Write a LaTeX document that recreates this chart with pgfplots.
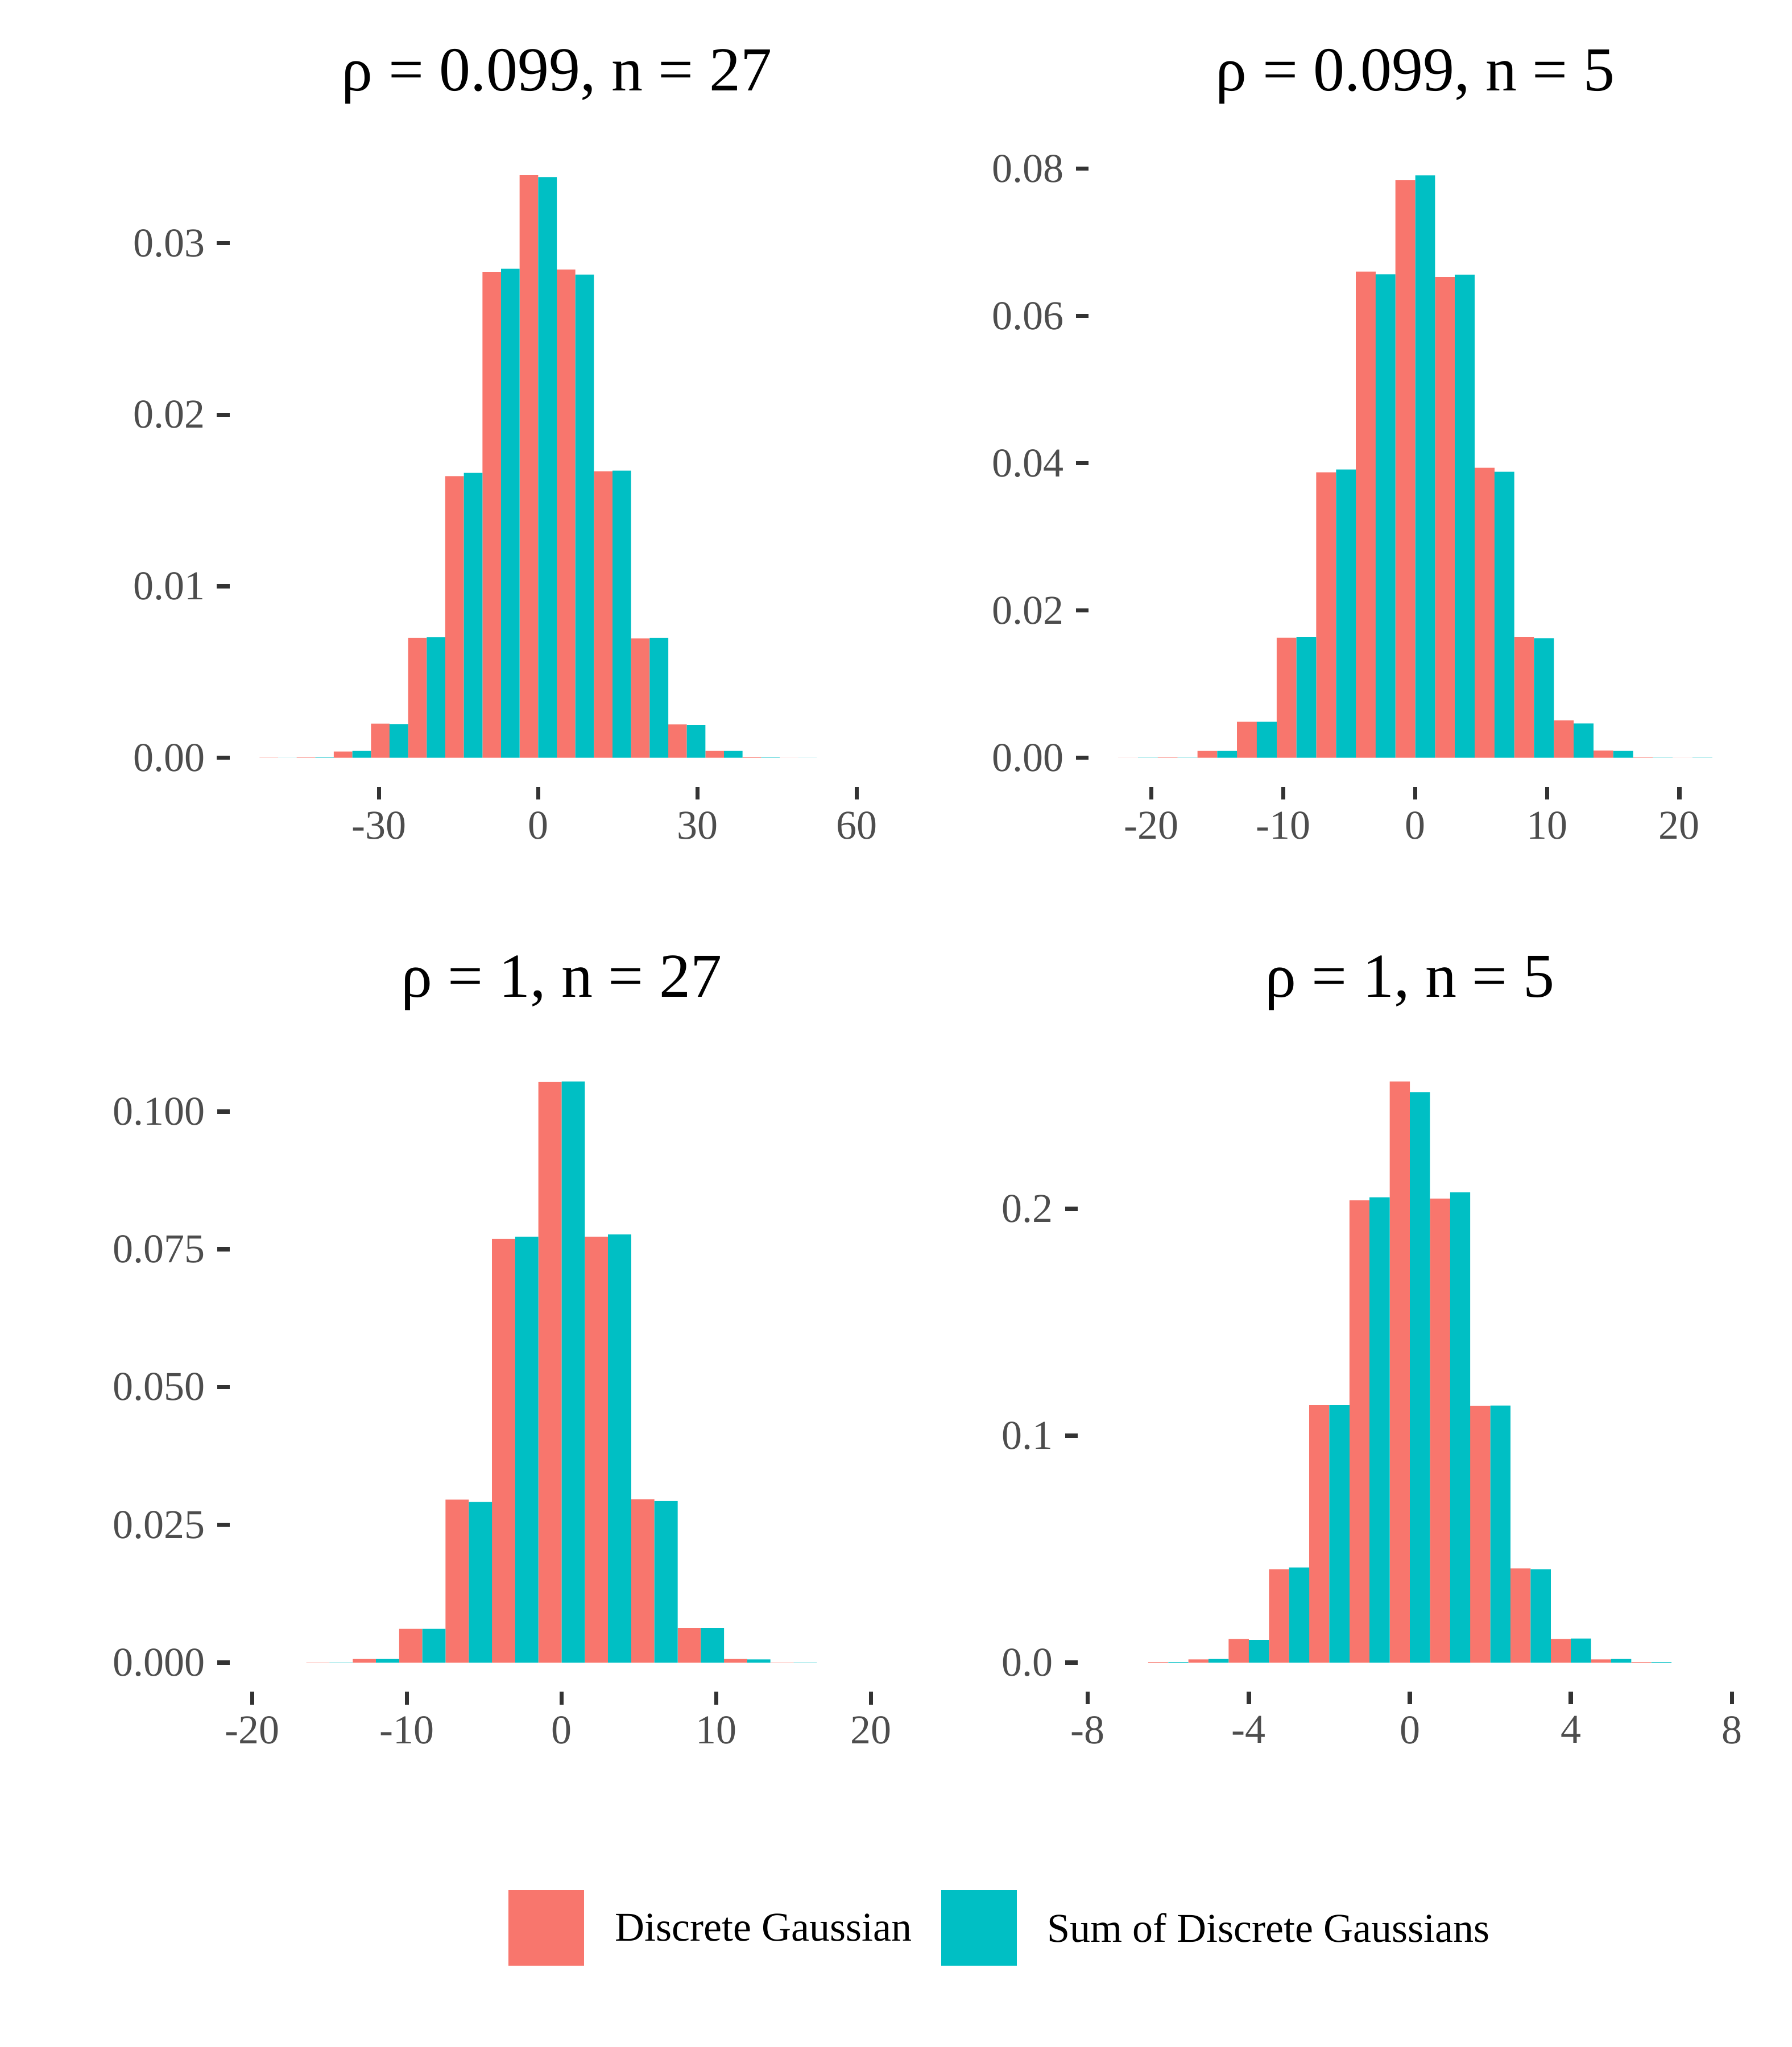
\documentclass[border=0pt]{standalone}
\usepackage{fontspec}
\setmainfont{Liberation Serif}
\usepackage{pgfplots}
\pgfplotsset{compat=1.18}
\definecolor{dgred}{HTML}{F8766D}
\definecolor{dgteal}{HTML}{00BFC4}
\definecolor{labgray}{HTML}{4D4D4D}
\definecolor{tickgray}{HTML}{333333}
\pgfplotsset{
  panel/.style={
    scale only axis, anchor=south west,
    axis line style={draw=none},
    scaled y ticks=false, scaled x ticks=false,
    tick pos=left, tick align=outside, major tick length=4.5pt,
    tick style={line width=1.5pt, tickgray},
    tick label style={font=\fontsize{14.4}{17}\selectfont, text=labgray},
    yticklabel style={inner sep=0pt},
    xticklabel style={inner sep=0pt},
    yticklabel shift=4pt, xticklabel shift=4pt,
    title style={at={(0.5,1)}, anchor=base, yshift=13.4pt, font=\fontsize{22}{26}\selectfont, text=black},
    ybar,
  },
  dgR/.style={fill=dgred, draw=none},
  dgT/.style={fill=dgteal, draw=none},
}
\pgfplotstableread{
x r t
-49 0.000008 0
-42 0.00003 0.00003
-35 0.00037 0.00040
-28 0.00199 0.00197
-21 0.00699 0.00704
-14 0.01642 0.01661
-7 0.02833 0.02851
0 0.03396 0.03386
7 0.02846 0.02817
14 0.01669 0.01674
21 0.00696 0.00699
28 0.00194 0.00191
35 0.00040 0.00040
42 0.00004 0.00002
49 0.000005 0.000005
}\tabA
\pgfplotstableread{
x r t
-21 0 0.00002
-18 0.00006 0.00003
-15 0.00093 0.00093
-12 0.00489 0.00489
-9 0.01629 0.01641
-6 0.03877 0.03915
-3 0.06603 0.06566
0 0.07841 0.07910
3 0.06528 0.06559
6 0.03939 0.03884
9 0.01641 0.01623
12 0.00508 0.00465
15 0.00099 0.00093
18 0.00006 0.00003
21 0 0.00002
}\tabB
\pgfplotstableread{
x r t
-15 0.00002 0.00002
-12 0.00066 0.00066
-9 0.00611 0.00611
-6 0.02956 0.02915
-3 0.07688 0.07729
0 0.10537 0.10545
3 0.07729 0.07770
6 0.02964 0.02931
9 0.00628 0.00628
12 0.00066 0.00058
15 0.00002 0.00002
}\tabC
\pgfplotstableread{
x r t
-6 0.0002 0.0002
-5 0.0014 0.0016
-4 0.0104 0.0100
-3 0.0411 0.0419
-2 0.1135 0.1135
-1 0.2037 0.2051
0 0.2561 0.2513
1 0.2045 0.2073
2 0.1131 0.1133
3 0.0415 0.0411
4 0.0104 0.0106
5 0.0014 0.0016
6 0.0002 0.0002
}\tabD
\begin{document}
\begin{tikzpicture}
% panel 1
\begin{axis}[panel, at={(80.8pt,443.2pt)}, width=230pt, height=225.4pt,
  xmin=-58.1, xmax=65.1, ymin=-0.0017, ymax=0.03566, bar width=3.5,
  xtick={-30,0,30,60}, xticklabels={-30,0,30,60},
  ytick={0,0.01,0.02,0.03}, yticklabels={0.00,0.01,0.02,0.03},
  title={ρ = 0.099, n = 27}]
\addplot[dgR, bar shift=-1.75] table[x=x,y=r] {\tabA};
\addplot[dgT, bar shift=1.75] table[x=x,y=t] {\tabA};
\end{axis}
% panel 2
\begin{axis}[panel, at={(382.8pt,443.2pt)}, width=229.8pt, height=225.4pt,
  xmin=-24.75, xmax=24.75, ymin=-0.00396, ymax=0.08306, bar width=1.5,
  xtick={-20,-10,0,10,20}, xticklabels={-20,-10,0,10,20},
  ytick={0,0.02,0.04,0.06,0.08}, yticklabels={0.00,0.02,0.04,0.06,0.08},
  title={ρ = 0.099, n = 5}]
\addplot[dgR, bar shift=-0.75] table[x=x,y=r] {\tabB};
\addplot[dgT, bar shift=0.75] table[x=x,y=t] {\tabB};
\end{axis}
% panel 3
\begin{axis}[panel, at={(80.8pt,125pt)}, width=233.4pt, height=224.8pt,
  xmin=-21.45, xmax=21.45, ymin=-0.00527, ymax=0.11072, bar width=1.5,
  xtick={-20,-10,0,10,20}, xticklabels={-20,-10,0,10,20},
  ytick={0,0.025,0.05,0.075,0.1}, yticklabels={0.000,0.025,0.050,0.075,0.100},
  title={ρ = 1, n = 27},
  legend columns=2, legend cell align=left,
  legend image code/.code={\fill[#1] (0pt,-13.25pt) rectangle (26.5pt,13.25pt);},
  legend style={at={(0.41988,-0.36944)}, anchor=west, draw=none, fill=none,
    inner sep=0pt, outer sep=0pt, column sep=0pt, row sep=0pt,
    font=\fontsize{14.4}{17}\selectfont, text=black, nodes={inner sep=0pt}}]
\addplot[dgR, bar shift=-0.75] table[x=x,y=r] {\tabC};
\addlegendentry{\raisebox{-1.4pt}{\hspace*{11pt}Discrete Gaussian\hspace*{10.4pt}}}
\addplot[dgT, bar shift=0.75] table[x=x,y=t] {\tabC};
\addlegendentry{\raisebox{-1.4pt}{\hspace*{10.8pt}Sum of Discrete Gaussians}}
\end{axis}
% panel 4
\begin{axis}[panel, at={(379pt,125pt)}, width=233.6pt, height=224.8pt,
  xmin=-8.25, xmax=8.25, ymin=-0.0128, ymax=0.2689, bar width=0.5,
  xtick={-8,-4,0,4,8}, xticklabels={-8,-4,0,4,8},
  ytick={0,0.1,0.2}, yticklabels={0.0,0.1,0.2},
  title={ρ = 1, n = 5}]
\addplot[dgR, bar shift=-0.25] table[x=x,y=r] {\tabD};
\addplot[dgT, bar shift=0.25] table[x=x,y=t] {\tabD};
\end{axis}
\pgfresetboundingbox
\useasboundingbox (0,0) rectangle (630pt,720pt);
\end{tikzpicture}
\end{document}
